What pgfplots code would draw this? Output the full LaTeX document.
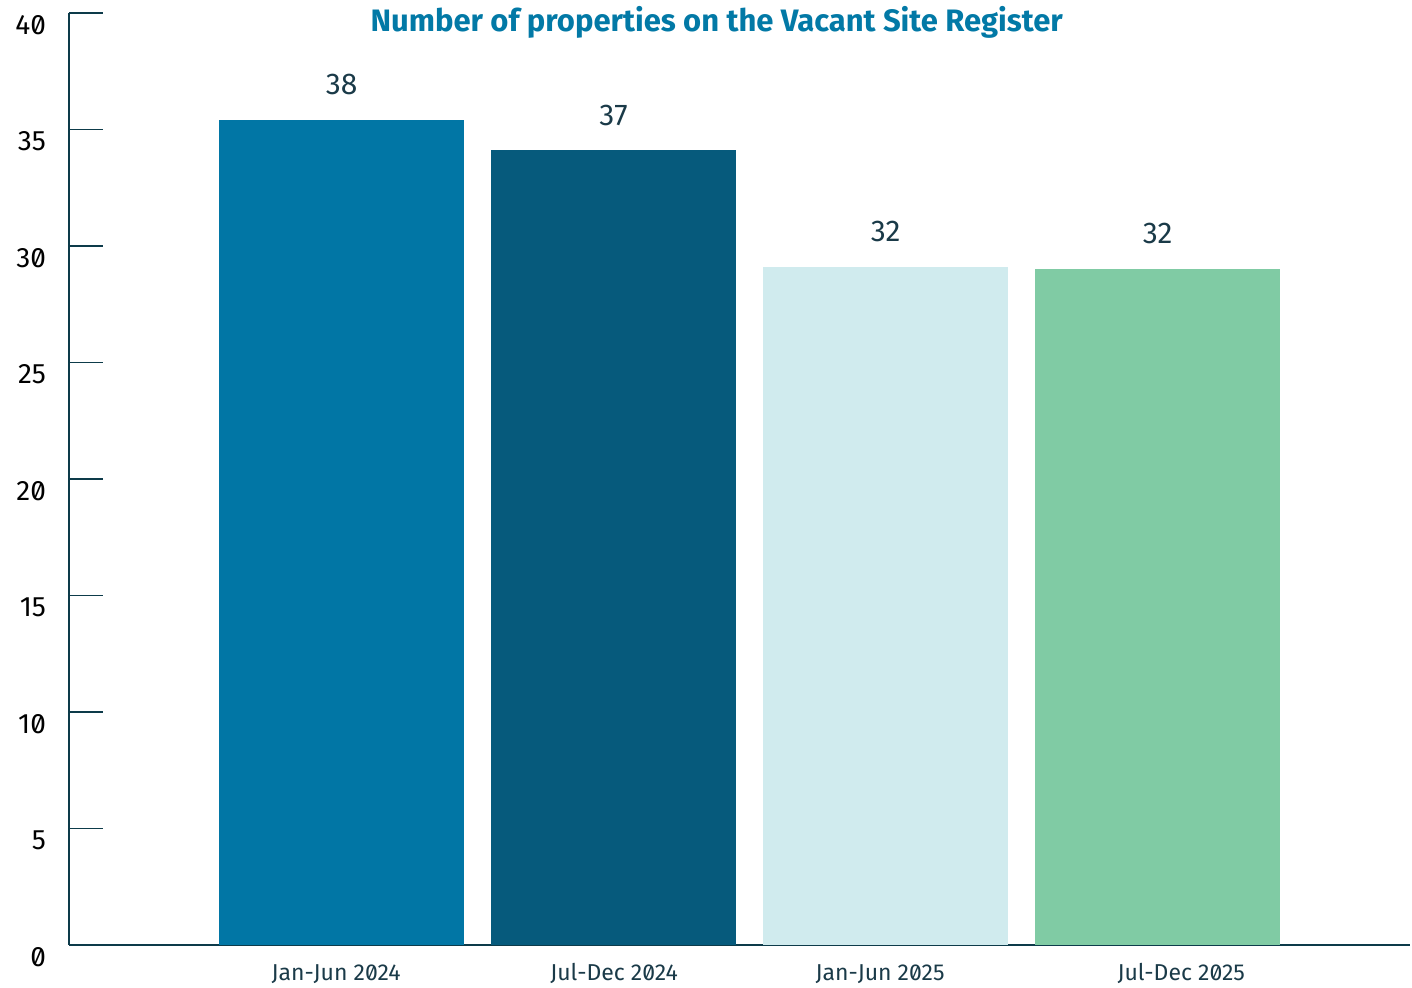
\documentclass[border=0pt]{standalone}
\usepackage{fontspec}
\setmainfont{Fira Sans}[RawFeature=+zero]
\usepackage{pgfplots}
\pgfplotsset{compat=1.18}
\definecolor{barA}{HTML}{0176A5}
\definecolor{barB}{HTML}{065A7C}
\definecolor{barC}{HTML}{D0EBEE}
\definecolor{barD}{HTML}{80CBA4}
\definecolor{axisc}{HTML}{0D3B4A}
\definecolor{titlec}{HTML}{0279A6}
\definecolor{txt}{HTML}{1A3A48}

\begin{document}
\begin{tikzpicture}
\begin{axis}[
    scale only axis,
    width=670.5pt, height=466pt,
    xmin=-1.002, xmax=3.928,
    ymin=0, ymax=40,
    ytick={0,5,...,40},
    % label positions as in the source (slightly off bar centres)
    xtick={-0.02,1.002,1.98,3.087},
    xticklabels={Jan-Jun 2024, Jul-Dec 2024, Jan-Jun 2025, Jul-Dec 2025},
    axis lines*=left,
    axis line style={axisc, line width=1.2pt},
    y axis line style={line width=1pt},
    tick align=inside,
    major tick length=17pt,
    ytick style={axisc, line width=0.8pt},
    xtick style={draw=none},
    yticklabel style={font=\fontsize{14}{16}\selectfont, color=black, yshift=-6pt, xshift=-8pt},
    xticklabel style={font=\fontsize{11.5}{13}\selectfont, color=txt, yshift=11pt,
        text height=1.6ex, text depth=0.4ex},
    /pgf/number format/assume math mode=true,
    ybar, bar width=122.5pt,
    bar shift=0pt,
    nodes near coords,
    point meta=explicit symbolic,
    every node near coord/.append style={font=\fontsize{15}{17}\selectfont, color=txt, yshift=9pt},
    clip=false,
]
\addplot[fill=barA, draw=none] coordinates {(0,35.4) [38]};
\addplot[fill=barB, draw=none] coordinates {(1,34.1) [37]};
\addplot[fill=barC, draw=none] coordinates {(2,29.1) [32]};
\addplot[fill=barD, draw=none] coordinates {(3,29.0) [32]};
\node[font=\fontsize{15.5}{17}\selectfont\bfseries, text=titlec] at (rel axis cs:0.483,0.99) {Number of properties on the Vacant Site Register};
\coordinate (o) at (rel axis cs:0,0);
\end{axis}
\pgfresetboundingbox
\path[use as bounding box] (o) ++(-34.5pt,-21.5pt) rectangle ++(706pt,494pt);
\end{tikzpicture}
\end{document}
